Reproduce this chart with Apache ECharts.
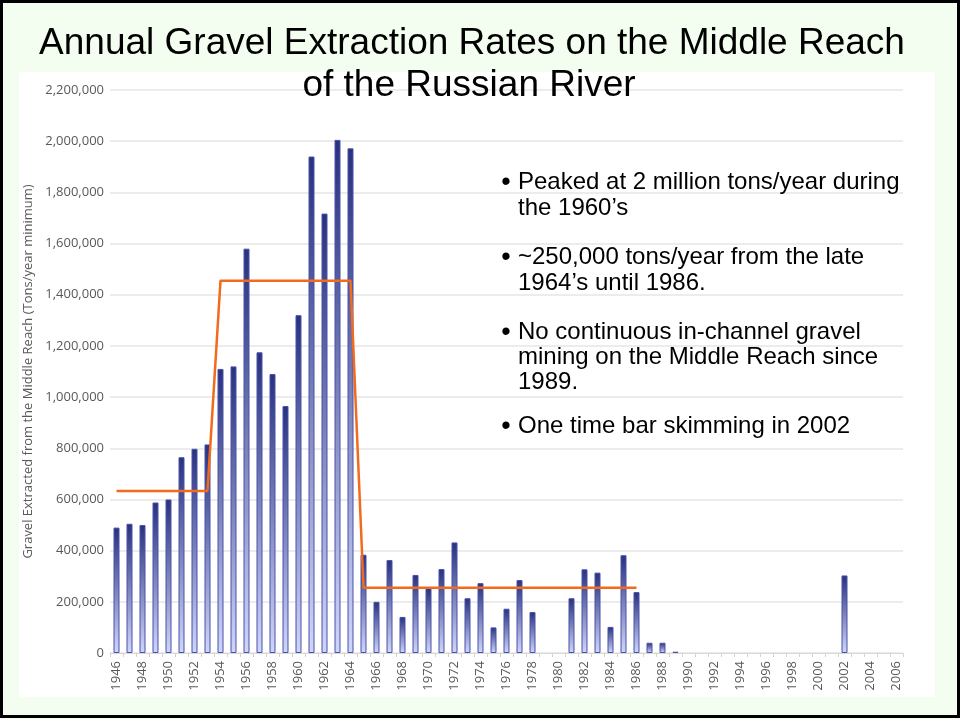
<!DOCTYPE html>
<html>
<head>
<meta charset="utf-8">
<script src="https://cdn.jsdelivr.net/npm/echarts@6/dist/echarts.min.js"></script>
<style>
  html, body { margin: 0; padding: 0; background: #f4fef0; }
  #chart { width: 960px; height: 719px; }
</style>
</head>
<body>
<div id="chart"></div>
<script>
// Years on the category axis
const years = [
  '1946','1947','1948','1949','1950','1951','1952','1953','1954','1955',
  '1956','1957','1958','1959','1960','1961','1962','1963','1964','1965',
  '1966','1967','1968','1969','1970','1971','1972','1973','1974','1975',
  '1976','1977','1978','1979','1980','1981','1982','1983','1984','1985',
  '1986','1987','1988','1989','1990','1991','1992','1993','1994','1995',
  '1996','1997','1998','1999','2000','2001','2002','2003','2004','2005','2006'
];

// Annual gravel extracted (tons/year); null = no extraction recorded
const extraction = [
  490000, 505000, 500000, 588000, 600000, 765000, 798000, 815000, 1110000, 1120000,
  1580000, 1175000, 1090000, 965000, 1320000, 1940000, 1717000, 2005000, 1972000, 384000,
  200000, 363000, 141000, 305000, 253000, 328000, 432000, 214000, 273000, 100000,
  173000, 285000, 160000, null, null, 214000, 327000, 314000, 102000, 382000,
  238000, 40000, 40000, 5000, null, null, null, null, null, null,
  null, null, null, null, null, null, 303000, null, null, null, null
];

// Period averages drawn as the orange step line
const periodStart = ['1946', '1954', '1965'];
const periodEnd   = ['1953', '1964', '1986'];
const periodLevel = [633000, 1455000, 255000];

// Y-axis ticks
const yMin = 0;
const yMax = 2200000;
const yStep = 200000;

// Text panel lines (each inner array is one bullet)
const bullets = [
  ['Peaked at 2 million tons/year during', 'the 1960\u2019s'],
  ['~250,000 tons/year from the late', '1964\u2019s until 1986.'],
  ['No continuous in-channel gravel', 'mining on the Middle Reach since', '1989.'],
  ['One time bar skimming in 2002']
];
const titleLines = ['Annual Gravel Extraction Rates on the Middle Reach', 'of the Russian River'];
const yAxisTitle = 'Gravel Extracted from the Middle Reach (Tons/year minimum)';

// Per-year values of the step line
const periodLine = years.map(y => {
  for (let i = 0; i < periodLevel.length; i++) {
    if (+y >= +periodStart[i] && +y <= +periodEnd[i]) return periodLevel[i];
  }
  return null;
});

const chart = echarts.init(document.getElementById('chart'), null, { renderer: 'canvas' });

// Bullet panel layout
const textFont = '24px "Liberation Sans", Arial, sans-serif';
const lineY = [[182, 208], [257, 283], [332, 357, 382], [426]];
const bulletGraphics = [];
bullets.forEach((lines, bi) => {
  bulletGraphics.push({
    type: 'text', z: 100, x: 506, y: lineY[bi][0] + 1,
    style: {
      text: '\u2022', font: '27px "Liberation Sans", Arial, sans-serif', fill: '#000',
      textAlign: 'center', align: 'center', textVerticalAlign: 'middle', verticalAlign: 'middle'
    }
  });
  lines.forEach((t, li) => {
    bulletGraphics.push({
      type: 'text', z: 100, x: 518, y: lineY[bi][li],
      style: {
        text: t, font: textFont, fill: '#000',
        textVerticalAlign: 'middle', verticalAlign: 'middle'
      }
    });
  });
});

const option = {
  backgroundColor: '#f4fef0',
  animation: false,
  grid: { left: 110, right: 57, top: 90, bottom: 66, containLabel: false },
  xAxis: {
    type: 'category',
    data: years,
    boundaryGap: true,
    axisLine: { show: true, lineStyle: { color: '#d9d9d9', width: 1 } },
    axisTick: { show: true, interval: 0, length: 4, lineStyle: { color: '#d3d3d3' } },
    axisLabel: {
      interval: 1, rotate: 90, margin: 8,
      color: '#595959', fontSize: 13, fontFamily: '"Open Sans", sans-serif'
    },
    splitLine: { show: false }
  },
  yAxis: {
    type: 'value',
    min: yMin, max: yMax, interval: yStep,
    name: yAxisTitle,
    nameLocation: 'middle',
    nameGap: 66,
    nameRotate: 90,
    nameTextStyle: { color: '#595959', fontSize: 13, fontFamily: '"Open Sans", sans-serif' },
    axisLine: { show: false },
    axisTick: { show: false },
    axisLabel: {
      margin: 6, color: '#595959', fontSize: 13, fontFamily: '"Open Sans", sans-serif',
      formatter: v => v.toLocaleString('en-US')
    },
    splitLine: { show: true, lineStyle: { color: '#e6e6e6', width: 1.5 } }
  },
  series: [
    {
      name: 'Extraction',
      type: 'bar',
      data: extraction,
      barWidth: 6,
      itemStyle: {
        color: new echarts.graphic.LinearGradient(0, 0, 0, 1, [
          { offset: 0, color: '#27317e' },
          { offset: 1, color: '#cfd6fb' }
        ]),
        borderColor: '#4a50a8',
        borderWidth: 1
      },
      z: 2
    },
    {
      name: 'Period average',
      type: 'line',
      data: periodLine,
      showSymbol: false,
      symbol: 'none',
      connectNulls: false,
      lineStyle: { color: '#f26a1b', width: 2.5 },
      z: 5
    }
  ],
  graphic: [
    // white chart panel
    {
      type: 'rect', z: -10, silent: true,
      shape: { x: 19, y: 72, width: 916, height: 625 },
      style: { fill: '#ffffff' }
    },
    // slide frame
    {
      type: 'rect', z: 200, silent: true,
      shape: { x: 1.5, y: 1.5, width: 957, height: 715 },
      style: { fill: 'none', stroke: '#000', lineWidth: 3 }
    },
    {
      type: 'text', z: 100, x: 472, y: 44,
      style: {
        text: titleLines[0], font: '37px "Liberation Sans", Arial, sans-serif', fill: '#000',
        textAlign: 'center', align: 'center', textVerticalAlign: 'middle', verticalAlign: 'middle'
      }
    },
    {
      type: 'text', z: 100, x: 469, y: 86,
      style: {
        text: titleLines[1], font: '37px "Liberation Sans", Arial, sans-serif', fill: '#000',
        textAlign: 'center', align: 'center', textVerticalAlign: 'middle', verticalAlign: 'middle'
      }
    }
  ].concat(bulletGraphics)
};

chart.setOption(option);
</script>
</body>
</html>
